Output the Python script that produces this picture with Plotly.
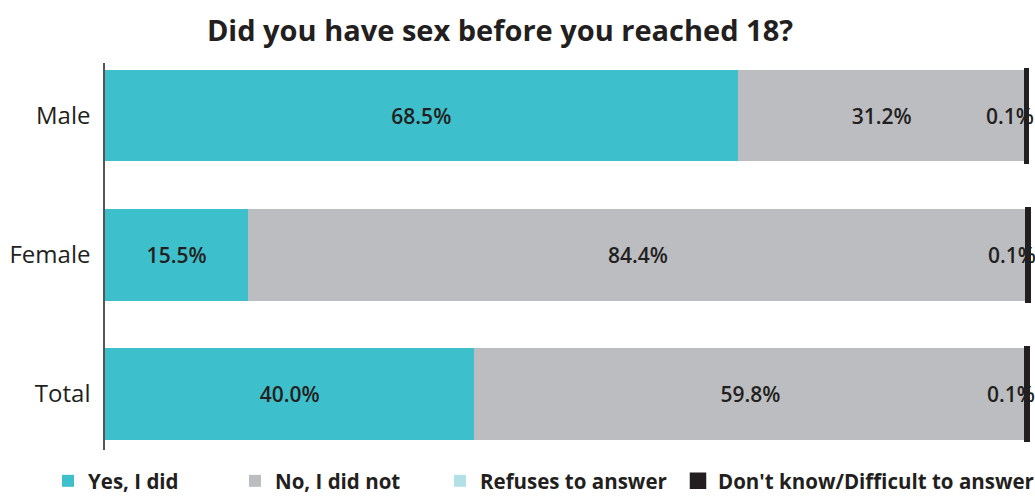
import plotly.graph_objects as go

categories = ["Male", "Female", "Total"]
yes_did = [68.5, 15.5, 40.0]
no_did_not = [31.2, 84.4, 59.8]
refuses = [0.0, 0.0, 0.0]
dont_know = [0.1, 0.1, 0.1]

series_names = ["Yes, I did", "No, I did not", "Refuses to answer", "Don't know/Difficult to answer"]
series_values = [yes_did, no_did_not, refuses, dont_know]
colors = ["#3dbfcc", "#bcbdc1", "#b3e0e6", "#231f20"]
legend_ids = ["legend", "legend2", "legend3", "legend4"]
legend_x_px = [48, 235, 440, 678]

W, H = 1035, 497
label_font = dict(family="Open Sans", size=21, color="#231f20", weight=600)

fig = go.Figure()
for i, (name, vals, col, lid) in enumerate(zip(series_names, series_values, colors, legend_ids)):
    show_text = i < 2
    fig.add_trace(go.Bar(
        y=categories, x=vals, name=name, orientation="h",
        marker=dict(color=col,
                    line=dict(color=col, width=4.5 if i == 3 else 0)),
        width=0.655,
        text=[f"{v:.1f}%" for v in vals] if show_text else None,
        textposition="inside" if show_text else "none",
        insidetextanchor="middle",
        textangle=0,
        constraintext="none",
        textfont=label_font,
        hoverinfo="skip",
        legend=lid,
    ))

# labels for the tiny "Don't know" segment
for cat, a, b, d in zip(categories, yes_did, no_did_not, dont_know):
    fig.add_annotation(x=a + b, y=cat, text=f"{d:.1f}%", showarrow=False,
                       xanchor="center", xshift=-16, font=label_font)

layout_legends = {}
for lid, px in zip(legend_ids, legend_x_px):
    layout_legends[lid] = dict(
        orientation="h", xref="container", yref="container",
        x=px / W, y=(H - 481) / H, xanchor="left", yanchor="middle",
        font=dict(family="Open Sans", size=20.5, color="#231f20", weight="bold"),
        bgcolor="rgba(0,0,0,0)", borderwidth=0,
    )

fig.update_layout(
    width=W, height=H,
    barmode="stack",
    plot_bgcolor="white", paper_bgcolor="white",
    margin=dict(l=105, r=0, t=63, b=47),
    title=dict(text="<b>Did you have sex before you reached 18?</b>",
               xref="container", yref="container", x=500 / W, y=1 - 31 / H,
               xanchor="center", yanchor="middle",
               font=dict(family="Open Sans", size=29, color="#231f20")),
    xaxis=dict(range=[0, 100.7], visible=False, fixedrange=True),
    yaxis=dict(categoryorder="array", categoryarray=categories,
               range=[2.403, -0.381],
               showline=True, linecolor="#555555", linewidth=1.5,
               showgrid=False, ticks="", ticklabelstandoff=8,
               tickfont=dict(family="Open Sans", size=24, color="#231f20")),
    showlegend=True,
    **layout_legends,
)

fig.write_html("out.html")
